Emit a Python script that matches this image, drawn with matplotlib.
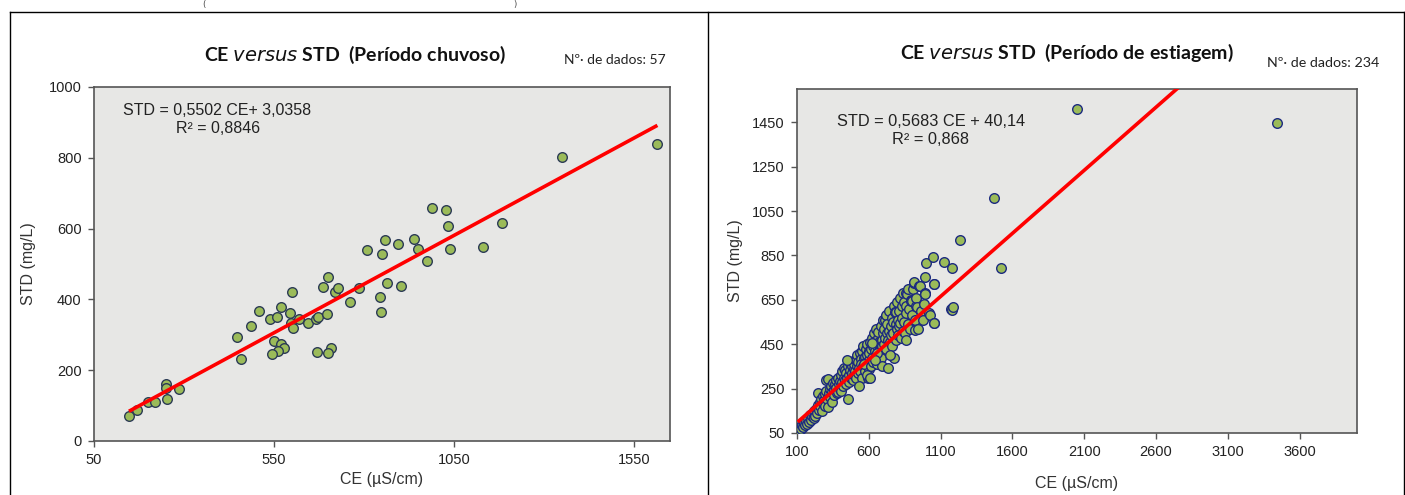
import matplotlib
matplotlib.use("Agg")
import matplotlib.pyplot as plt
from matplotlib.lines import Line2D
import numpy as np

# ---------------- data: rainy period (57 samples) ----------------
rain_ce = [147, 170, 200, 220, 250, 250, 253, 287, 457, 448, 487, 507,
           540, 559, 570, 594, 601, 596, 603, 619, 645, 666, 672, 696,
           687, 700, 719, 728, 761, 787, 844, 847, 863, 904, 807, 850,
           858, 894, 939, 949, 974, 988, 1029, 1034, 1040, 549, 570, 579,
           561, 544, 670, 707, 700, 1130, 1184, 1351, 1615]
rain_std = [70, 88, 110, 110, 160, 150, 119, 147, 232, 294, 325, 367,
            344, 349, 379, 362, 420, 332, 318, 344, 334, 344, 349, 359,
            436, 464, 422, 431, 394, 431, 406, 365, 447, 439, 539, 527,
            567, 557, 572, 541, 508, 657, 653, 607, 541, 283, 274, 263,
            253, 245, 251, 262, 249, 547, 615, 803, 839]
rain_slope, rain_icpt = 0.5502, 3.0358

# ---------------- data: dry period (234 samples) ----------------
dry_ce = [
    105, 118, 125, 132, 140, 150, 158, 165, 172, 180, 185, 192, 198, 205, 210,
    215, 220, 226, 232, 238, 245, 249, 252, 258, 262, 268, 272, 278, 283, 288, 292, 297, 300,
    304, 310, 314, 318, 322, 328, 332, 338, 342, 346, 350, 355, 360, 364, 370, 374, 378, 384, 388, 392, 396, 400,
    404, 408, 412, 416, 420, 424, 428, 432, 435, 440, 444, 448, 453, 456, 460, 464, 468, 472, 476, 480, 484, 488, 493, 496, 499, 500,
    504, 508, 512, 516, 520, 524, 528, 532, 536, 540, 544, 548, 552, 556, 560, 562, 566, 571, 574, 578, 582, 586, 590, 593, 596, 598, 600, 600, 585, 570,
    604, 608, 612, 616, 620, 624, 628, 632, 636, 640, 644, 648, 652, 656, 660, 664, 667, 670, 674, 678, 682, 686, 690, 694, 698, 700, 690, 660, 640, 625,
    704, 708, 712, 716, 719, 722, 726, 730, 734, 737, 740, 744, 748, 752, 756, 760, 764, 768, 772, 776, 779, 783, 787, 787, 790, 794, 798, 800,
    804, 808, 812, 815, 820, 824, 828, 832, 836, 840, 844, 848, 852, 857, 858, 862, 866, 870, 876, 880, 886, 892, 897, 899,
    904, 910, 912, 916, 920, 923, 928, 932, 937, 942, 951, 958, 964, 975, 983, 988, 989, 993, 997, 1016, 1027, 1048, 1052, 1055, 1055, 1057,
    1125, 1178, 1174, 1178, 1188, 1232, 1469, 1520, 2051, 3440,
    450, 530, 610, 750, 860]
dry_std = [
    62, 75, 70, 85, 78, 95, 88, 105, 92, 118, 100, 130, 110, 125, 140,
    118, 150, 127, 160, 140, 175, 231, 155, 190, 170, 205, 150, 185, 215, 198, 170, 225, 240,
    290, 205, 292, 168, 230, 250, 210, 260, 235, 190, 275, 245, 220, 270, 290, 255, 230, 236, 300, 270, 250, 285,
    310, 240, 330, 280, 260, 300, 345, 290, 334, 270, 320, 300, 205, 350, 310, 280, 335, 365, 300, 320, 350, 290, 375, 340, 310, 360,
    330, 380, 300, 350, 400, 320, 370, 345, 410, 330, 385, 360, 300, 420, 350, 442, 390, 394, 330, 430, 370, 400, 450, 296, 360, 420, 380, 340, 310, 360,
    410, 460, 350, 430, 480, 390, 440, 370, 500, 420, 460, 400, 520, 440, 360, 480, 507, 420, 460, 457, 530, 390, 470, 440, 560, 500, 350, 410, 380, 455,
    450, 520, 480, 560, 581, 430, 500, 540, 470, 343, 510, 600, 460, 530, 490, 570, 440, 550, 500, 620, 390, 593, 596, 540, 470, 520, 640, 560,
    490, 600, 530, 544, 660, 480, 570, 620, 510, 680, 550, 640, 500, 679, 622, 590, 676, 540, 700, 610, 520, 650, 646, 646,
    580, 700, 724, 731, 560, 514, 620, 660, 617, 520, 712, 712, 600, 560, 629, 679, 754, 676, 817, 589, 581, 841, 721, 720, 547, 547,
    819, 792, 607, 604, 616, 919, 1109, 792, 1510, 1447,
    380, 260, 300, 400, 470]
dry_slope, dry_icpt = 0.5683, 40.14

rain_xticks = [50, 550, 1050, 1550]
rain_yticks = [0, 200, 400, 600, 800, 1000]
dry_xticks = [100, 600, 1100, 1600, 2100, 2600, 3100, 3600]
dry_yticks = [50, 250, 450, 650, 850, 1050, 1250, 1450]

# ---------------- styling ----------------
W, H = 1405, 495
fig = plt.figure(figsize=(W / 100, H / 100), dpi=100)
fig.patch.set_facecolor("white")

tick_font = ["Liberation Sans Narrow", "Liberation Sans", "DejaVu Sans"]
lab_font = ["Liberation Sans", "DejaVu Sans"]
title_font = ["Lato", "DejaVu Sans"]

face = "#e7e7e5"
green = "#9bbb59"


def ax_rect(l, r, t, b):
    return [l / W, 1 - b / H, (r - l) / W, (b - t) / H]


def setup(ax, xlim, ylim, xticks, yticks):
    ax.set_facecolor(face)
    ax.set_xlim(*xlim)
    ax.set_ylim(*ylim)
    ax.set_xticks(xticks)
    ax.set_yticks(yticks)
    for s in ax.spines.values():
        s.set_color("#555555")
        s.set_linewidth(1.2)
    ax.tick_params(direction="out", length=4, width=1, color="#555555",
                   labelsize=10.5, labelcolor="#222222", pad=5)
    for lbl in ax.get_xticklabels() + ax.get_yticklabels():
        lbl.set_family(tick_font)


# ---- left panel ----
axL = fig.add_axes(ax_rect(94, 670, 87, 441))
setup(axL, (50, 1650), (0, 1000), rain_xticks, rain_yticks)
axL.scatter(rain_ce, rain_std, s=48, facecolor=green, edgecolor="#2c3b55",
            linewidth=1.0, zorder=3)
xl = np.array([min(rain_ce), max(rain_ce)])
axL.plot(xl, rain_slope * xl + rain_icpt, color="#ff0000", lw=2.6, zorder=4,
         solid_capstyle="butt")
axL.set_xlabel("CE (µS/cm)", family=lab_font, fontsize=11.5, color="#333333", labelpad=3)
axL.set_ylabel("STD (mg/L)", family=lab_font, fontsize=11.5, color="#333333", labelpad=9)
axL.text(0.05, 0.935, "STD = 0,5502 CE+ 3,0358", transform=axL.transAxes,
         family=lab_font, fontsize=11.5, color="#222222", va="center")
axL.text(0.142, 0.884, "R² = 0,8846", transform=axL.transAxes,
         family=lab_font, fontsize=11.5, color="#222222", va="center")

# ---- right panel ----
axR = fig.add_axes(ax_rect(797, 1357, 89, 433))
setup(axR, (100, 4000), (50, 1600), dry_xticks, dry_yticks)
axR.scatter(dry_ce, dry_std, s=48, facecolor=green, edgecolor="#1c2a80",
            linewidth=1.0, zorder=3)
xr = np.array([min(dry_ce), max(dry_ce)])
axR.plot(xr, dry_slope * xr + dry_icpt, color="#ff0000", lw=2.6, zorder=4,
         solid_capstyle="butt")
axR.set_xlabel("CE (µS/cm)", family=lab_font, fontsize=11.5, color="#333333", labelpad=12)
axR.set_ylabel("STD (mg/L)", family=lab_font, fontsize=11.5, color="#333333", labelpad=6)
axR.text(0.071, 0.905, "STD = 0,5683 CE + 40,14", transform=axR.transAxes,
         family=lab_font, fontsize=11.8, color="#222222", va="center")
axR.text(0.170, 0.853, "R² = 0,868", transform=axR.transAxes,
         family=lab_font, fontsize=11.8, color="#222222", va="center")

# ---- titles & counts ----
fig.text(355 / W, 1 - 55 / H, r"CE $\mathbf{\mathit{versus}}$ STD  (Período chuvoso)",
         family=title_font, fontsize=14, fontweight="bold", ha="center",
         va="center", color="#111111")
fig.text(1067 / W, 1 - 53 / H, r"CE $\mathbf{\mathit{versus}}$ STD  (Período de estiagem)",
         family=title_font, fontsize=14, fontweight="bold", ha="center",
         va="center", color="#111111")
fig.text(615 / W, 1 - 60 / H, "Nº· de dados: 57", family=title_font, fontsize=10,
         ha="center", va="center", color="#222222")
fig.text(1323 / W, 1 - 63 / H, "Nº· de dados: 234", family=title_font, fontsize=10.3,
         ha="center", va="center", color="#222222")

# ---- panel frames ----
frame_kw = dict(color="black", lw=1.0, transform=fig.transFigure)
fig.add_artist(Line2D([10 / W, 1.0], [1 - 12 / H, 1 - 12 / H], **frame_kw))
fig.add_artist(Line2D([10 / W, 10 / W], [0, 1 - 12 / H], **frame_kw))
fig.add_artist(Line2D([708 / W, 708 / W], [0, 1 - 12 / H], **frame_kw))
fig.add_artist(Line2D([1403.5 / W, 1403.5 / W], [0, 1 - 12 / H], **frame_kw))

# caption fragments at top edge (kept fully inside the canvas)
fig.text(204 / W, 1 - 0.5 / H, "(", fontsize=6, color="#444444", va="top", ha="center")
fig.text(515 / W, 1 - 0.5 / H, ")", fontsize=6, color="#444444", va="top", ha="center")

fig.savefig("out.png", dpi=100, facecolor="white")
